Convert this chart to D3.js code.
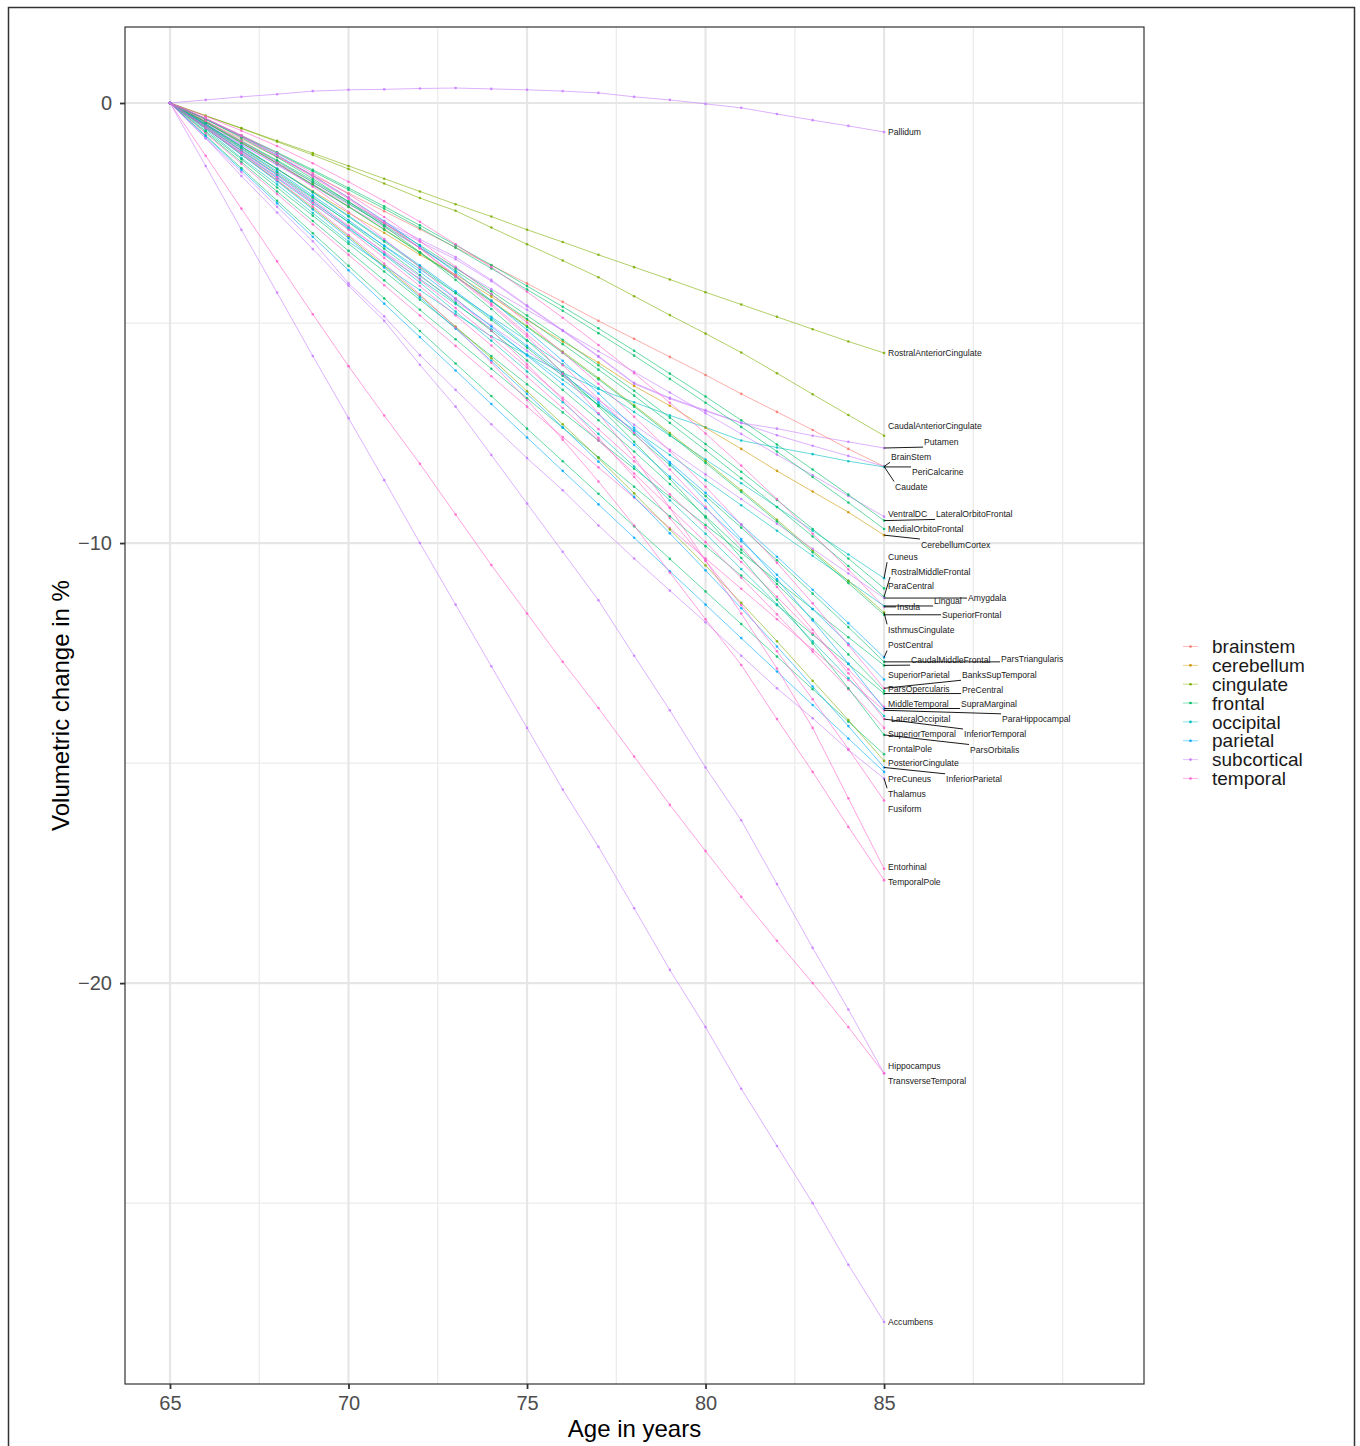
<!DOCTYPE html>
<html>
<head>
<meta charset="utf-8">
<script src="https://cdn.jsdelivr.net/npm/d3@7"></script>
<style>
  body { margin: 0; background: #fff; }
  svg { font-family: "Liberation Sans", Arial, Helvetica, sans-serif; }
</style>
</head>
<body>
<div id="chart"></div>
<script>
// ages on the x axis
var ages = [65, 66, 67, 68, 69, 70, 71, 72, 73, 74, 75, 76, 77, 78, 79, 80, 81, 82, 83, 84, 85];
var xTicks = [65, 70, 75, 80, 85];
var yTicks = [0, -10, -20];

var groups = ["brainstem", "cerebellum", "cingulate", "frontal", "occipital", "parietal", "subcortical", "temporal"];
var groupColors = ["#F8766D", "#CD9600", "#7CAE00", "#00BE67", "#00BFC4", "#00A9FF", "#C77CFF", "#FF61CC"];

// volumetric change in % per region, one value per age
var Pallidum = [0, 0.07, 0.14, 0.2, 0.27, 0.3, 0.31, 0.33, 0.34, 0.32, 0.3, 0.27, 0.23, 0.14, 0.07, -0.02, -0.11, -0.25, -0.39, -0.52, -0.66];
var RostralAnteriorCingulate = [0, -0.29, -0.57, -0.86, -1.14, -1.43, -1.72, -2.01, -2.3, -2.58, -2.88, -3.16, -3.45, -3.73, -4.01, -4.3, -4.58, -4.86, -5.14, -5.42, -5.68];
var CaudalAnteriorCingulate = [0, -0.29, -0.58, -0.88, -1.18, -1.5, -1.83, -2.16, -2.45, -2.83, -3.21, -3.58, -3.96, -4.39, -4.82, -5.24, -5.67, -6.14, -6.62, -7.09, -7.56];
var Putamen = [0, -0.45, -0.9, -1.35, -1.8, -2.25, -2.7, -3.1, -3.5, -4.02, -4.6, -5.16, -5.75, -6.36, -6.7, -6.98, -7.27, -7.4, -7.56, -7.7, -7.84];
var BrainStem = [0, -0.41, -0.82, -1.23, -1.64, -2.05, -2.46, -2.87, -3.28, -3.69, -4.1, -4.52, -4.95, -5.36, -5.77, -6.18, -6.61, -7.02, -7.43, -7.86, -8.26];
var Caudate = [0, -0.5, -0.95, -1.4, -1.85, -2.3, -2.75, -3.15, -3.55, -4.05, -4.62, -5.18, -5.77, -6.38, -6.72, -7.0, -7.27, -7.55, -7.79, -8.02, -8.26];
var PeriCalcarine = [0, -0.6, -1.25, -1.85, -2.5, -3.15, -3.7, -4.25, -4.8, -5.3, -5.72, -6.13, -6.5, -6.8, -7.1, -7.37, -7.67, -7.83, -7.98, -8.14, -8.27];
var VentralDC = [0, -0.47, -0.94, -1.41, -1.88, -2.35, -2.82, -3.29, -3.76, -4.23, -4.7, -5.17, -5.64, -6.11, -6.58, -7.05, -7.52, -7.99, -8.46, -8.93, -9.4];
var LateralOrbitoFrontal = [0, -0.36, -0.74, -1.12, -1.52, -1.93, -2.35, -2.78, -3.23, -3.68, -4.16, -4.63, -5.12, -5.63, -6.15, -6.67, -7.21, -7.76, -8.33, -8.9, -9.49];
var MedialOrbitoFrontal = [0, -0.37, -0.76, -1.14, -1.55, -1.97, -2.4, -2.84, -3.29, -3.76, -4.24, -4.72, -5.23, -5.74, -6.27, -6.81, -7.36, -7.92, -8.5, -9.08, -9.68];
var CerebellumCortex = [0, -0.5, -1.0, -1.5, -2.0, -2.5, -2.95, -3.45, -3.9, -4.4, -4.93, -5.42, -5.9, -6.43, -6.88, -7.38, -7.86, -8.36, -8.83, -9.3, -9.82];
var Cuneus = [0, -0.54, -1.08, -1.62, -2.16, -2.7, -3.24, -3.78, -4.32, -4.86, -5.4, -5.94, -6.48, -7.02, -7.56, -8.1, -8.64, -9.18, -9.72, -10.26, -10.8];
var ParaCentral = [0, -0.42, -0.86, -1.3, -1.76, -2.24, -2.74, -3.23, -3.75, -4.28, -4.83, -5.38, -5.96, -6.54, -7.15, -7.75, -8.38, -9.02, -9.68, -10.35, -11.03];
var RostralMiddleFrontal = [0, -0.43, -0.88, -1.32, -1.8, -2.28, -2.78, -3.29, -3.81, -4.35, -4.91, -5.48, -6.06, -6.65, -7.27, -7.89, -8.53, -9.18, -9.85, -10.52, -11.22];
var Insula = [0, -0.3, -0.63, -0.98, -1.37, -1.79, -2.23, -2.7, -3.21, -3.73, -4.29, -4.88, -5.5, -6.14, -6.81, -7.51, -8.24, -9.0, -9.79, -10.6, -11.45];
var Lingual = [0, -0.57, -1.14, -1.71, -2.29, -2.86, -3.43, -4.0, -4.57, -5.14, -5.72, -6.29, -6.86, -7.43, -8.0, -8.57, -9.14, -9.72, -10.29, -10.86, -11.43];
var IsthmusCingulate = [0, -0.44, -0.9, -1.37, -1.85, -2.35, -2.87, -3.39, -3.94, -4.49, -5.07, -5.65, -6.25, -6.87, -7.5, -8.14, -8.8, -9.47, -10.17, -10.86, -11.58];
var Amygdala = [0, -0.56, -1.13, -1.69, -2.25, -2.81, -3.38, -3.94, -4.5, -5.06, -5.63, -6.19, -6.75, -7.31, -7.88, -8.44, -9.0, -9.56, -10.13, -10.69, -11.25];
var SuperiorFrontal = [0, -0.44, -0.91, -1.37, -1.86, -2.36, -2.88, -3.41, -3.95, -4.51, -5.09, -5.68, -6.28, -6.9, -7.54, -8.18, -8.84, -9.51, -10.21, -10.91, -11.63];
var PostCentral = [0, -0.48, -0.98, -1.49, -2.02, -2.56, -3.12, -3.69, -4.28, -4.89, -5.52, -6.15, -6.8, -7.47, -8.16, -8.86, -9.58, -10.31, -11.06, -11.82, -12.6];
var ParsTriangularis = [0, -0.48, -0.99, -1.5, -2.03, -2.58, -3.15, -3.72, -4.32, -4.93, -5.56, -6.2, -6.86, -7.53, -8.23, -8.93, -9.65, -10.39, -11.15, -11.91, -12.7];
var CaudalMiddleFrontal = [0, -0.64, -1.28, -1.92, -2.56, -3.2, -3.83, -4.47, -5.11, -5.75, -6.39, -7.03, -7.67, -8.31, -8.95, -9.59, -10.22, -10.86, -11.5, -12.14, -12.78];
var SuperiorParietal = [0, -0.5, -1.02, -1.55, -2.1, -2.66, -3.25, -3.84, -4.45, -5.08, -5.74, -6.39, -7.07, -7.77, -8.49, -9.21, -9.96, -10.72, -11.5, -12.29, -13.1];
var BanksSupTemporal = [0, -0.35, -0.73, -1.14, -1.6, -2.07, -2.59, -3.14, -3.72, -4.34, -4.99, -5.67, -6.38, -7.13, -7.91, -8.72, -9.58, -10.45, -11.37, -12.32, -13.3];
var ParsOpercularis = [0, -0.51, -1.04, -1.58, -2.14, -2.71, -3.31, -3.91, -4.54, -5.18, -5.85, -6.52, -7.21, -7.92, -8.66, -9.39, -10.15, -10.93, -11.73, -12.53, -13.36];
var PreCentral = [0, -0.67, -1.34, -2.01, -2.68, -3.36, -4.03, -4.7, -5.37, -6.04, -6.71, -7.38, -8.05, -8.72, -9.39, -10.07, -10.74, -11.41, -12.08, -12.75, -13.42];
var MiddleTemporal = [0, -0.52, -1.07, -1.62, -2.2, -2.79, -3.4, -4.02, -4.66, -5.32, -6.01, -6.7, -7.41, -8.14, -8.89, -9.65, -10.43, -11.22, -12.05, -12.87, -13.72];
var ParaHippocampal = [0, -0.69, -1.38, -2.07, -2.76, -3.45, -4.14, -4.83, -5.52, -6.21, -6.9, -7.59, -8.28, -8.97, -9.66, -10.35, -11.04, -11.73, -12.42, -13.11, -13.8];
var SupraMarginal = [0, -0.36, -0.76, -1.18, -1.65, -2.15, -2.68, -3.25, -3.85, -4.49, -5.16, -5.86, -6.6, -7.38, -8.19, -9.03, -9.91, -10.82, -11.76, -12.74, -13.76];
var LateralOccipital = [0, -0.53, -1.09, -1.64, -2.23, -2.83, -3.45, -4.08, -4.74, -5.4, -6.1, -6.8, -7.52, -8.26, -9.03, -9.79, -10.59, -11.39, -12.23, -13.07, -13.93];
var InferiorTemporal = [0, -0.36, -0.77, -1.2, -1.68, -2.18, -2.73, -3.3, -3.92, -4.56, -5.25, -5.96, -6.72, -7.5, -8.33, -9.18, -10.08, -11.0, -11.97, -12.96, -14.0];
var SuperiorTemporal = [0, -0.54, -1.11, -1.68, -2.27, -2.88, -3.52, -4.16, -4.83, -5.51, -6.22, -6.93, -7.67, -8.42, -9.2, -9.98, -10.79, -11.62, -12.47, -13.32, -14.2];
var ParsOrbitalis = [0, -0.37, -0.79, -1.23, -1.72, -2.24, -2.8, -3.39, -4.02, -4.68, -5.39, -6.12, -6.89, -7.7, -8.54, -9.42, -10.34, -11.29, -12.28, -13.3, -14.36];
var FrontalPole = [0, -0.74, -1.48, -2.22, -2.96, -3.7, -4.44, -5.18, -5.92, -6.66, -7.4, -8.14, -8.88, -9.62, -10.36, -11.1, -11.84, -12.58, -13.32, -14.06, -14.8];
var PosteriorCingulate = [0, -0.57, -1.17, -1.76, -2.39, -3.03, -3.71, -4.38, -5.08, -5.8, -6.55, -7.3, -8.07, -8.87, -9.69, -10.51, -11.36, -12.23, -13.13, -14.02, -14.95];
var InferiorParietal = [0, -0.57, -1.18, -1.78, -2.42, -3.07, -3.74, -4.42, -5.13, -5.86, -6.61, -7.37, -8.15, -8.95, -9.78, -10.62, -11.48, -12.35, -13.26, -14.16, -15.1];
var PreCuneus = [0, -0.76, -1.52, -2.28, -3.04, -3.8, -4.56, -5.32, -6.08, -6.84, -7.6, -8.36, -9.12, -9.88, -10.64, -11.4, -12.16, -12.92, -13.68, -14.44, -15.2];
var Thalamus = [0, -0.8, -1.57, -2.36, -3.14, -4.1, -4.85, -5.73, -6.52, -7.3, -8.07, -8.8, -9.6, -10.35, -11.08, -11.8, -12.56, -13.3, -13.98, -14.7, -15.35];
var Fusiform = [0, -0.41, -0.87, -1.36, -1.9, -2.47, -3.09, -3.74, -4.44, -5.17, -5.94, -6.75, -7.61, -8.5, -9.43, -10.4, -11.41, -12.46, -13.55, -14.68, -15.85];
var Entorhinal = [0, -0.35, -0.75, -1.2, -1.65, -2.15, -2.7, -3.3, -3.95, -4.6, -5.3, -6.15, -7.05, -8.05, -9.2, -10.4, -11.6, -12.85, -14.2, -15.8, -17.4];
var TemporalPole = [0, -0.57, -1.15, -1.75, -2.35, -3.0, -3.65, -4.35, -5.1, -5.9, -6.75, -7.65, -8.6, -9.6, -10.67, -11.73, -12.77, -14.0, -15.2, -16.45, -17.66];
var Hippocampus = [0, -0.8, -1.66, -2.49, -3.32, -4.15, -4.95, -5.95, -6.9, -8.0, -9.1, -10.2, -11.3, -12.56, -13.8, -15.1, -16.3, -17.75, -19.2, -20.6, -22.05];
var TransverseTemporal = [0, -1.2, -2.4, -3.6, -4.8, -5.98, -7.1, -8.2, -9.35, -10.5, -11.6, -12.7, -13.75, -14.85, -15.95, -17.0, -18.04, -19.04, -20.0, -21.0, -22.05];
var Accumbens = [0, -1.43, -2.88, -4.31, -5.75, -7.16, -8.57, -10.0, -11.4, -12.8, -14.2, -15.6, -16.9, -18.3, -19.7, -21.0, -22.4, -23.7, -25.0, -26.4, -27.7];

var regionNames = ["Pallidum", "RostralAnteriorCingulate", "CaudalAnteriorCingulate", "Putamen", "BrainStem", "Caudate",
    "PeriCalcarine", "VentralDC", "LateralOrbitoFrontal", "MedialOrbitoFrontal", "CerebellumCortex", "Cuneus", "ParaCentral",
    "RostralMiddleFrontal", "Insula", "Lingual", "IsthmusCingulate", "Amygdala", "SuperiorFrontal", "PostCentral",
    "ParsTriangularis", "CaudalMiddleFrontal", "SuperiorParietal", "BanksSupTemporal", "ParsOpercularis", "PreCentral",
    "MiddleTemporal", "ParaHippocampal", "SupraMarginal", "LateralOccipital", "InferiorTemporal", "SuperiorTemporal",
    "ParsOrbitalis", "FrontalPole", "PosteriorCingulate", "InferiorParietal", "PreCuneus", "Thalamus", "Fusiform",
    "Entorhinal", "TemporalPole", "Hippocampus", "TransverseTemporal", "Accumbens"];
var regionGroups = ["subcortical", "cingulate", "cingulate", "subcortical", "brainstem", "subcortical",
    "occipital", "subcortical", "frontal", "frontal", "cerebellum", "occipital", "frontal",
    "frontal", "temporal", "occipital", "cingulate", "subcortical", "frontal", "parietal",
    "frontal", "frontal", "parietal", "temporal", "frontal", "frontal",
    "temporal", "temporal", "parietal", "occipital", "temporal", "temporal",
    "frontal", "frontal", "cingulate", "parietal", "parietal", "subcortical", "temporal",
    "temporal", "temporal", "subcortical", "temporal", "subcortical"];
var regionValues = [Pallidum, RostralAnteriorCingulate, CaudalAnteriorCingulate, Putamen, BrainStem, Caudate,
    PeriCalcarine, VentralDC, LateralOrbitoFrontal, MedialOrbitoFrontal, CerebellumCortex, Cuneus, ParaCentral,
    RostralMiddleFrontal, Insula, Lingual, IsthmusCingulate, Amygdala, SuperiorFrontal, PostCentral,
    ParsTriangularis, CaudalMiddleFrontal, SuperiorParietal, BanksSupTemporal, ParsOpercularis, PreCentral,
    MiddleTemporal, ParaHippocampal, SupraMarginal, LateralOccipital, InferiorTemporal, SuperiorTemporal,
    ParsOrbitalis, FrontalPole, PosteriorCingulate, InferiorParietal, PreCuneus, Thalamus, Fusiform,
    Entorhinal, TemporalPole, Hippocampus, TransverseTemporal, Accumbens];

// horizontal push of some labels (like the repel in the original)
var labelDx = {
    Putamen: 36, Caudate: 7, PeriCalcarine: 24, BrainStem: 3, LateralOrbitoFrontal: 48, CerebellumCortex: 33,
    RostralMiddleFrontal: 3, Insula: 9, Lingual: 46, Amygdala: 80, SuperiorFrontal: 54, ParsTriangularis: 113,
    CaudalMiddleFrontal: 23, BanksSupTemporal: 74, PreCentral: 74, ParaHippocampal: 114, LateralOccipital: 3,
    SupraMarginal: 73, InferiorTemporal: 76, ParsOrbitalis: 82, InferiorParietal: 58
};

var W = 1360, H = 1446;
var panel = { left: 125, top: 27, right: 1144, bottom: 1384 };

var svg = d3.select("#chart").append("svg")
    .attr("width", W)
    .attr("height", H);

svg.append("rect").attr("width", W).attr("height", H).attr("fill", "#fff");
// outer frame of the figure
svg.append("rect")
    .attr("x", 8.5).attr("y", 7.5)
    .attr("width", 1346).attr("height", 1460)
    .attr("fill", "none")
    .attr("stroke", "#333")
    .attr("stroke-width", 1.5);

var x = d3.scaleLinear().domain([63.74, 92.28]).range([panel.left, panel.right]);
var y = d3.scaleLinear().domain([1.727, -29.11]).range([panel.top, panel.bottom]);
var color = d3.scaleOrdinal().domain(groups).range(groupColors);

// grid
var grid = svg.append("g");
var xMinor = [67.5, 72.5, 77.5, 82.5, 87.5, 90];
var yMinor = [-5, -15, -25];
grid.selectAll(".xmin").data(xMinor).enter().append("line")
    .attr("x1", d => x(d)).attr("x2", d => x(d))
    .attr("y1", panel.top).attr("y2", panel.bottom)
    .attr("stroke", "#ebebeb").attr("stroke-width", 1.3);
grid.selectAll(".ymin").data(yMinor).enter().append("line")
    .attr("x1", panel.left).attr("x2", panel.right)
    .attr("y1", d => y(d)).attr("y2", d => y(d))
    .attr("stroke", "#ebebeb").attr("stroke-width", 1.3);
grid.selectAll(".xmaj").data(xTicks).enter().append("line")
    .attr("x1", d => x(d)).attr("x2", d => x(d))
    .attr("y1", panel.top).attr("y2", panel.bottom)
    .attr("stroke", "#e6e6e6").attr("stroke-width", 2.2);
grid.selectAll(".ymaj").data(yTicks).enter().append("line")
    .attr("x1", panel.left).attr("x2", panel.right)
    .attr("y1", d => y(d)).attr("y2", d => y(d))
    .attr("stroke", "#e6e6e6").attr("stroke-width", 2.2);

// lines + points
var series = regionNames.map(function (n, i) {
    return { name: n, group: regionGroups[i], values: regionValues[i] };
});

var line = d3.line()
    .x((d, i) => x(ages[i]))
    .y(d => y(d));

var gLines = svg.append("g");
series.forEach(function (s) {
    gLines.append("path")
        .attr("d", line(s.values))
        .attr("fill", "none")
        .attr("stroke", color(s.group))
        .attr("stroke-opacity", 0.7)
        .attr("stroke-width", 0.85);
});
series.forEach(function (s) {
    gLines.selectAll(null).data(s.values).enter().append("circle")
        .attr("cx", (d, i) => x(ages[i]))
        .attr("cy", d => y(d))
        .attr("r", 1.3)
        .attr("fill", color(s.group))
        .attr("fill-opacity", 0.85);
});

// labels at the last age, pushed apart so they don't overlap
var lastAge = ages[ages.length - 1];
var gLab = svg.append("g");
var labs = series.map(function (s) {
    var v = s.values[s.values.length - 1];
    var t = gLab.append("text")
        .text(s.name)
        .style("font-size", "8.6px")
        .attr("fill", "#1a1a1a");
    return {
        el: t,
        px: x(lastAge),
        py: y(v),
        x: x(lastAge) + 4 + (labelDx[s.name] || 0),
        y: y(v),
        w: t.node().getComputedTextLength()
    };
});

var lh = 11, gap = 4.5;
for (var it = 0; it < 500; it++) {
    for (var i = 0; i < labs.length; i++) {
        for (var j = i + 1; j < labs.length; j++) {
            var a = labs[i], b = labs[j];
            if (a.x > b.x + b.w + 2 || b.x > a.x + a.w + 2) continue;
            var dy = b.y - a.y;
            if (Math.abs(dy) >= lh + gap) continue;
            var push = (lh + gap - Math.abs(dy)) / 2;
            var dir = dy > 0 ? 1 : (dy < 0 ? -1 : (b.py >= a.py ? 1 : -1));
            a.y -= push * dir;
            b.y += push * dir;
        }
    }
    labs.forEach(function (l) {
        l.y += (l.py - l.y) * 0.015;
        l.y = Math.max(panel.top + 8, Math.min(panel.bottom - 8, l.y));
    });
}

labs.forEach(function (l) {
    l.el.attr("x", l.x).attr("y", l.y).attr("dy", "0.35em");
    var x0 = l.x - 1, y0 = l.y - lh / 2, y1 = l.y + lh / 2;
    var ex = x0;
    var ey = Math.max(y0, Math.min(y1, l.py));
    if (Math.hypot(ex - l.px, ey - l.py) > 6) {
        gLab.append("line")
            .attr("x1", l.px).attr("y1", l.py)
            .attr("x2", ex).attr("y2", ey)
            .attr("stroke", "#000")
            .attr("stroke-width", 0.9);
    }
});

// panel border
svg.append("rect")
    .attr("x", panel.left).attr("y", panel.top)
    .attr("width", panel.right - panel.left)
    .attr("height", panel.bottom - panel.top)
    .attr("fill", "none")
    .attr("stroke", "#333")
    .attr("stroke-width", 1.2);

// axes
var xAxis = d3.axisBottom(x).tickValues(xTicks).tickSize(5).tickPadding(7);
var yAxis = d3.axisLeft(y).tickValues(yTicks).tickSize(5).tickPadding(8);

var gx = svg.append("g").attr("transform", "translate(0," + panel.bottom + ")").call(xAxis);
var gy = svg.append("g").attr("transform", "translate(" + panel.left + ",0)").call(yAxis);
[gx, gy].forEach(function (g) {
    g.select(".domain").remove();
    g.selectAll(".tick line").attr("stroke", "#333").attr("stroke-width", 1.8);
    g.selectAll(".tick text")
        .attr("fill", "#4d4d4d")
        .style("font-size", "20px")
        .style("font-family", "'Liberation Sans', Arial, sans-serif");
});

svg.append("text")
    .text("Age in years")
    .attr("x", (panel.left + panel.right) / 2)
    .attr("y", 1437)
    .attr("text-anchor", "middle")
    .style("font-size", "24px")
    .attr("fill", "#000");

svg.append("text")
    .text("Volumetric change in %")
    .attr("transform", "translate(69," + ((panel.top + panel.bottom) / 2) + ") rotate(-90)")
    .attr("text-anchor", "middle")
    .style("font-size", "24px")
    .attr("fill", "#000");

// legend
var legend = svg.append("g").attr("transform", "translate(1183,646.5)");
groups.forEach(function (g, i) {
    var row = legend.append("g").attr("transform", "translate(0," + (i * 18.85) + ")");
    row.append("line")
        .attr("x1", 0).attr("x2", 15)
        .attr("stroke", color(g))
        .attr("stroke-opacity", 0.6)
        .attr("stroke-width", 0.8);
    row.append("circle")
        .attr("cx", 7.5).attr("cy", 0).attr("r", 1.3)
        .attr("fill", color(g));
    row.append("text")
        .text(g)
        .attr("x", 29)
        .attr("dy", "0.35em")
        .style("font-size", "19px")
        .attr("fill", "#1a1a1a");
});
</script>
</body>
</html>
